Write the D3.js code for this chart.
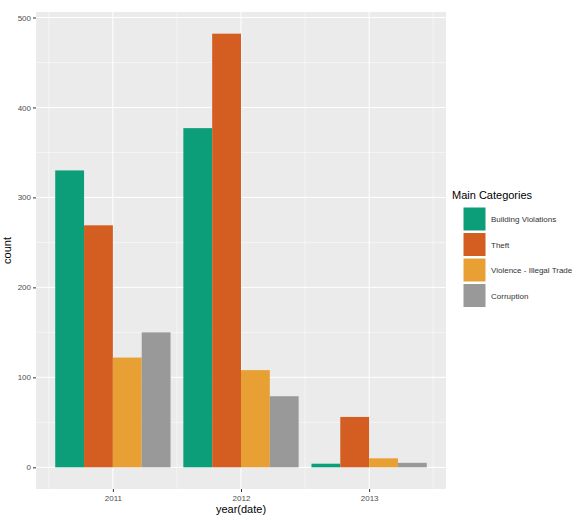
<!DOCTYPE html>
<meta charset="utf-8">
<style>
body { margin: 0; background: #fff; }
text { font-family: "Liberation Sans", Arial, sans-serif; }
.tick text { fill: #4d4d4d; font-size: 8px; }
</style>
<body>
<svg width="588" height="517"></svg>
<script src="https://d3js.org/d3.v7.min.js"></script>
<script>

var years = ["2011", "2012", "2013"];
var categories = ["Building Violations", "Theft", "Violence - Illegal Trade", "Corruption"];
var colors = ["#0c9e78", "#d45d21", "#e8a035", "#999999"];
var buildingViolations = [330, 377, 4];
var theft = [269, 482, 56];
var violence = [122, 108, 10];
var corruption = [150, 79, 5];
var yTicks = [0, 100, 200, 300, 400, 500];

var series = [buildingViolations, theft, violence, corruption];

var svg = d3.select("svg");
var pLeft = 36, pRight = 446, pTop = 12, pBottom = 489;

// continuous x like ggplot: categories at 1..3, expanded 0.6
var x = d3.scaleLinear().domain([0.4, 3.6]).range([pLeft, pRight]);
var y = d3.scaleLinear().domain([-24.1, 506.1]).range([pBottom, pTop]);

svg.append("rect")
    .attr("x", pLeft).attr("y", pTop)
    .attr("width", pRight - pLeft).attr("height", pBottom - pTop)
    .attr("fill", "#ebebeb");

// minor grid
var minorY = d3.range(50, 500, 100);
svg.selectAll(".minor-y").data(minorY).enter().append("line")
    .attr("x1", pLeft).attr("x2", pRight)
    .attr("y1", function(d) { return y(d); }).attr("y2", function(d) { return y(d); })
    .attr("stroke", "#fff").attr("stroke-width", 0.5);
svg.selectAll(".minor-x").data([0.5, 1.5, 2.5, 3.5]).enter().append("line")
    .attr("x1", function(d) { return x(d); }).attr("x2", function(d) { return x(d); })
    .attr("y1", pTop).attr("y2", pBottom)
    .attr("stroke", "#fff").attr("stroke-width", 0.5);

// major grid
svg.selectAll(".major-y").data(yTicks).enter().append("line")
    .attr("x1", pLeft).attr("x2", pRight)
    .attr("y1", function(d) { return y(d); }).attr("y2", function(d) { return y(d); })
    .attr("stroke", "#fff").attr("stroke-width", 1);
svg.selectAll(".major-x").data(years).enter().append("line")
    .attr("x1", function(d, i) { return x(i + 1); }).attr("x2", function(d, i) { return x(i + 1); })
    .attr("y1", pTop).attr("y2", pBottom)
    .attr("stroke", "#fff").attr("stroke-width", 1);

// bars, dodge width 0.9
var bw = 0.9 / categories.length;
series.forEach(function(vals, c) {
  svg.selectAll(".bar" + c).data(vals).enter().append("rect")
      .attr("x", function(d, i) { return x(i + 1 - 0.45 + c * bw); })
      .attr("width", x(bw) - x(0))
      .attr("y", function(d) { return y(d); })
      .attr("height", function(d) { return y(0) - y(d); })
      .attr("fill", colors[c]);
});

// axes
var yAxis = d3.axisLeft(y).tickValues(yTicks).tickSize(3).tickPadding(2);
svg.append("g").attr("transform", "translate(" + pLeft + ",0)").call(yAxis)
    .call(function(g) { g.select(".domain").remove(); })
    .call(function(g) { g.selectAll(".tick line").attr("stroke", "#333"); });

var xAxis = d3.axisBottom(x).tickValues([1, 2, 3])
    .tickFormat(function(d) { return years[d - 1]; }).tickSize(3).tickPadding(3);
svg.append("g").attr("transform", "translate(0," + pBottom + ")").call(xAxis)
    .call(function(g) { g.select(".domain").remove(); })
    .call(function(g) { g.selectAll(".tick line").attr("stroke", "#333"); });

svg.append("text")
    .attr("x", (pLeft + pRight) / 2).attr("y", 513)
    .attr("text-anchor", "middle").attr("font-size", 11).attr("fill", "#000")
    .text("year(date)");

svg.append("text")
    .attr("transform", "translate(11," + ((pTop + pBottom) / 2) + ") rotate(-90)")
    .attr("text-anchor", "middle").attr("font-size", 11).attr("fill", "#000")
    .text("count");

// legend
var lg = svg.append("g").attr("transform", "translate(463,0)");
lg.append("text").attr("x", -11).attr("y", 199)
    .attr("font-size", 11).attr("fill", "#000").text("Main Categories");
var key = lg.selectAll(".key").data(categories).enter().append("g")
    .attr("transform", function(d, i) { return "translate(0," + (207 + i * 25.5) + ")"; });
key.append("rect").attr("width", 23).attr("height", 24)
    .attr("fill", function(d, i) { return colors[i]; })
    .attr("stroke", "#fff").attr("stroke-width", 1);
key.append("text").attr("x", 28).attr("y", 15)
    .attr("font-size", 8).attr("fill", "#333")
    .text(function(d) { return d; });

</script>
